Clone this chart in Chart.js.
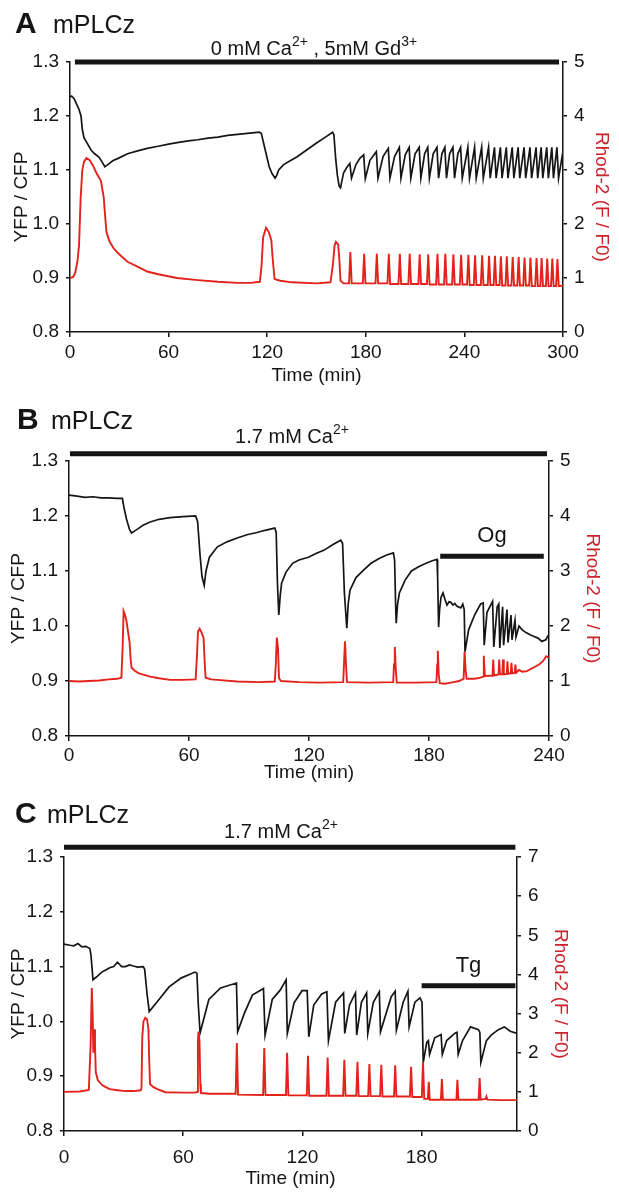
<!DOCTYPE html>
<html>
<head>
<meta charset="utf-8">
<script src="https://cdn.jsdelivr.net/npm/chart.js@4.4.1/dist/chart.umd.min.js"></script>
<style>
  body { margin: 0; background: #fff; }
  canvas { position: absolute; left: 0; }
</style>
</head>
<body>
<canvas id="chartA" width="619" height="390" style="top:0px"></canvas>
<canvas id="chartB" width="619" height="395" style="top:390px"></canvas>
<canvas id="chartC" width="619" height="415" style="top:785px"></canvas>
<script>
// ---- data: [time (min), value] ----

// Panel A: 0 mM Ca2+, 5 mM Gd3+
const aBlack = [
  [0,1.235],[1,1.237],[2.5,1.232],[4,1.222],[5.5,1.212],[6.7,1.2],[7.5,1.175],[8.5,1.16],[10,1.152],
  [12.8,1.137],[15,1.13],[17.6,1.124],[19.5,1.115],[21.2,1.106],[23,1.11],[26,1.117],[29.6,1.122],
  [35,1.13],[41.7,1.136],[47,1.14],[53.7,1.144],[60,1.148],[66,1.151],[72,1.154],[77.8,1.156],
  [84,1.159],[90,1.161],[96,1.164],[101.9,1.166],[108,1.168],[115.2,1.17],[116.4,1.168],[118.8,1.137],
  [121.2,1.106],[123,1.093],[124.8,1.085],[125.8,1.09],[127,1.1],[130,1.11],[134,1.117],[138,1.124],
  [144,1.137],[150,1.15],[155,1.16],[159.8,1.17],[160.6,1.165],[161.7,1.12],[162.7,1.09],[163.8,1.07],
  [164.6,1.067],[166.5,1.095],[168.5,1.105],[170.3,1.112],[171.3,1.085],[174,1.11],[176.5,1.122],
  [178.7,1.128],[179.7,1.084],[182.5,1.118],[186.4,1.134],[187.4,1.085],[190.5,1.125],[193.7,1.14],
  [194.7,1.085],[197.5,1.125],[200.4,1.142],[201.4,1.085],[204,1.128],[206.4,1.142],[207.4,1.085],
  [210,1.13],[212.5,1.142],[213.5,1.085],[215.8,1.13],[217.7,1.142],[218.7,1.085],[221,1.13],
  [223.3,1.142],[224.3,1.085],[226.3,1.13],[228.1,1.142],[229.1,1.085],[231,1.13],[233,1.142],
  [234,1.085],[236,1.13],[237.7,1.142],[238.7,1.085],[242.1,1.142],[243.1,1.085],[246.2,1.142],
  [247.2,1.085],[250.5,1.142],[251.5,1.085],[254.7,1.142],[255.7,1.085],[258.3,1.142],[259.3,1.085],
  [261.9,1.142],[262.9,1.085],[265.5,1.142],[266.5,1.085],[269.1,1.142],[270.1,1.085],[272.7,1.142],
  [273.7,1.085],[276.3,1.142],[277.3,1.085],[279.9,1.142],[280.9,1.085],[283.6,1.142],[284.6,1.085],
  [286.7,1.142],[287.7,1.085],[290.1,1.142],[291.1,1.085],[293.2,1.142],[294.2,1.085],[296.3,1.142],
  [297.3,1.085],[300,1.135]
];
const aRed = [
  [0,1.0],[2,1.02],[3.2,1.1],[4.5,1.3],[5.5,1.6],[6.5,2.5],[7.5,3.0],[8.5,3.15],[10,3.22],[12,3.18],
  [14,3.08],[16,2.95],[18.8,2.8],[20.5,2.5],[21.5,2.1],[22.2,1.85],[24,1.68],[26.5,1.55],[29.6,1.45],
  [35,1.3],[41.7,1.2],[47,1.12],[53.7,1.07],[65,1.0],[77.8,0.96],[90,0.93],[102,0.91],[110,0.91],
  [115.5,0.93],[116.5,1.2],[117.5,1.75],[119.3,1.93],[121,1.85],[122.5,1.7],[123.5,1.3],[124.5,0.98],
  [128,0.95],[135,0.92],[150,0.9],[158.5,0.92],[160,1.25],[161,1.6],[161.8,1.67],[163.2,1.62],
  [164,1.3],[164.6,0.95],[166.5,0.9],
  [169.8,0.9],[170.6,1.48],[171.4,0.9],[178.2,0.9],[179,1.45],[179.8,0.9],[185.9,0.9],[186.7,1.45],
  [187.5,0.9],[193.2,0.9],[194,1.45],[194.8,0.89],[199.9,0.89],[200.7,1.45],[201.5,0.89],[205.9,0.89],
  [206.7,1.45],[207.5,0.89],[212,0.89],[212.8,1.44],[213.6,0.89],[217.2,0.89],[218,1.44],[218.8,0.88],
  [222.8,0.88],[223.6,1.45],[224.4,0.88],[227.6,0.88],[228.4,1.45],[229.2,0.88],[232.5,0.88],
  [233.3,1.44],[234.1,0.88],[237.2,0.88],[238,1.43],[238.8,0.88],[241.6,0.88],[242.4,1.43],[243.2,0.87],
  [245.7,0.87],[246.5,1.42],[247.3,0.87],[250,0.87],[250.8,1.42],[251.6,0.87],[254.2,0.87],[255,1.41],
  [255.8,0.87],[257.8,0.87],[258.6,1.41],[259.4,0.87],[261.4,0.87],[262.2,1.4],[263,0.86],
  [265,0.86],[265.8,1.4],[266.6,0.86],[268.6,0.86],[269.4,1.39],[270.2,0.86],[272.2,0.86],[273,1.39],
  [273.8,0.86],[275.8,0.86],[276.6,1.38],[277.4,0.86],[279.4,0.86],[280.2,1.38],[281,0.85],
  [283.1,0.85],[283.9,1.37],[284.7,0.85],[286.2,0.85],[287,1.37],[287.8,0.85],[289.6,0.85],
  [290.4,1.36],[291.2,0.85],[292.7,0.85],[293.5,1.36],[294.3,0.85],[295.8,0.85],[296.6,1.35],[297.4,0.85],
  [300,0.86]
];
const aBar = [[3,1.3],[297.6,1.3]];

// Panel B: 1.7 mM Ca2+, Og added at ~185 min
const bBlack = [
  [0,1.238],[4,1.236],[8,1.234],[12,1.235],[16,1.233],[20,1.233],[24,1.232],[26.7,1.232],[27.5,1.215],
  [28.7,1.195],[30.3,1.175],[31.3,1.169],[32.5,1.172],[34.6,1.177],[37,1.183],[40.6,1.189],[45,1.194],
  [50.5,1.197],[57,1.199],[63.3,1.2],[64.3,1.19],[65.5,1.13],[66.5,1.09],[67.6,1.074],[68.5,1.1],
  [70.2,1.125],[74.2,1.144],[79,1.153],[84.1,1.16],[89,1.166],[94,1.17],[98,1.174],[102.9,1.178],
  [103.6,1.17],[104.2,1.08],[104.9,1.02],[105.6,1.055],[106.3,1.078],[108.5,1.098],[111.8,1.114],
  [115,1.12],[119.7,1.125],[123.5,1.132],[127.6,1.138],[132,1.148],[135.9,1.156],[136.8,1.15],
  [137.7,1.06],[138.9,0.996],[139.6,1.04],[140.5,1.065],[143.5,1.088],[147.4,1.102],[151,1.114],
  [155.3,1.123],[158.8,1.129],[162.2,1.133],[162.8,1.12],[163.3,1.04],[163.6,1.005],[164.3,1.04],
  [165.2,1.06],[168,1.083],[171.2,1.1],[175,1.108],[179.1,1.115],[182,1.119],[184,1.121],[184.3,1.09],
  [184.8,0.998],[185.3,1.03],[186,1.052],[187,1.06],[188,1.048],[189,1.038],[190,1.044],[190.9,1.043],
  [192,1.038],[192.9,1.041],[194,1.036],[195.9,1.033],[196.9,1.04],[197.6,1.03],[198,0.953],
  [199.8,0.993],[202.8,1.02],[205.8,1.04],[207.1,1.042],[207.6,0.965],[209,1.025],[211.8,1.045],
  [212.4,0.962],[214.1,1.035],[214.9,1.04],[215.4,0.96],[216.8,1.035],[217.3,0.965],[219,1.03],
  [219.5,0.97],[221,1.02],[221.5,0.975],[223,1.01],[223.5,0.98],[225,1.0],[226.6,0.993],[228.5,0.988],
  [230.5,0.984],[232.5,0.981],[234.5,0.978],[236.4,0.972],[238.4,0.975],[240,0.985]
];
const bRed = [
  [0,1.0],[5,0.99],[10,1.0],[15,1.01],[20,1.03],[24,1.04],[26.2,1.06],[26.8,1.6],[27.3,2.27],[28,2.2],
  [28.7,2.1],[29.5,1.9],[30.3,1.7],[30.9,1.35],[31.3,1.24],[33,1.18],[35,1.14],[40.6,1.08],[45,1.05],
  [50.5,1.02],[57,1.02],[63.3,1.03],[63.9,1.4],[64.5,1.9],[65.3,1.95],[66.3,1.88],[67.3,1.78],
  [67.9,1.3],[68.3,1.06],[71,1.03],[74.2,1.02],[84.1,0.99],[95,0.98],[102.9,0.99],[103.4,1.3],
  [103.9,1.79],[104.5,1.6],[105,1.05],[106,1.0],[115,0.98],[125,0.97],[137.1,0.98],[137.6,1.4],
  [138,1.72],[138.5,1.3],[139,0.98],[150,0.97],[162.1,0.98],[162.5,1.3],[162.9,1.62],[163.4,1.2],
  [163.9,0.97],[173,0.97],[183.7,0.98],[184.1,1.3],[184.4,1.55],[184.9,1.1],[185.4,0.96],[188,0.95],
  [191,0.97],[195,1.0],[197.3,1.04],[197.8,1.53],[198.3,1.2],[198.8,1.04],[202.8,1.04],[205.8,1.06],
  [207,1.08],[207.4,1.46],[207.9,1.09],[211.8,1.1],[212.1,1.39],[212.5,1.1],[214.8,1.12],[215.1,1.39],
  [215.5,1.12],[216.7,1.12],[217,1.39],[217.4,1.12],[218.9,1.13],[219.2,1.36],[219.6,1.13],
  [220.9,1.14],[221.2,1.33],[221.6,1.14],[222.9,1.15],[223.2,1.3],[223.6,1.15],[225,1.2],[226.6,1.17],
  [229,1.18],[232.5,1.25],[235,1.3],[237,1.36],[238.6,1.45],[240,1.42]
];
const bBar = [[0.5,1.313],[239,1.313]];
const bDrugBar = [[185.6,1.127],[237.4,1.127]];

// Panel C: 1.7 mM Ca2+, Tg added at ~180 min
const cBlack = [
  [0,1.141],[3,1.139],[5,1.138],[7,1.142],[9,1.136],[11,1.137],[13,1.133],[13.6,1.12],[14.6,1.076],
  [17,1.083],[19,1.09],[21,1.094],[23,1.098],[25,1.1],[26.9,1.108],[29,1.1],[30.9,1.1],[33,1.103],
  [34.9,1.101],[37,1.099],[39.9,1.1],[40.6,1.095],[41.8,1.05],[42.9,1.018],[46.9,1.036],[52.9,1.063],
  [58.9,1.079],[65.9,1.09],[66.9,1.088],[67.6,1.03],[68.5,0.979],[72.9,1.04],[78.8,1.061],[86.8,1.07],
  [87.4,0.981],[90.8,1.015],[94.8,1.048],[100.4,1.06],[101.2,0.975],[104.8,1.04],[108.8,1.057],
  [111.8,1.076],[112.4,0.978],[115.8,1.034],[119.8,1.056],[122.4,1.056],[123.2,0.972],[125.7,1.03],
  [129.7,1.05],[132.3,1.054],[133.1,0.965],[136.7,1.035],[140.7,1.052],[141.3,0.978],[143.7,1.03],
  [146.7,1.052],[147.3,0.975],[149.7,1.035],[152.3,1.052],[152.9,0.978],[155.7,1.035],[158.7,1.054],
  [159.3,0.981],[164.7,1.045],[166.7,1.055],[167.3,0.984],[170.7,1.035],[173.1,1.055],[173.7,0.99],
  [176.6,1.035],[179.2,1.043],[180.2,1.035],[180.8,0.925],[182.6,0.962],[183.4,0.965],[184,0.94],
  [186.6,0.97],[189.8,0.976],[190.4,0.94],[192.6,0.965],[196.6,0.978],[197.8,0.98],[198.4,0.94],
  [200.6,0.965],[204.6,0.99],[208.6,0.985],[209.3,0.98],[209.8,0.925],[212.6,0.965],[215,0.975],
  [218.6,0.985],[221.6,0.99],[224.6,0.982],[228,0.978]
];
const cRed = [
  [0,1.0],[8,1.01],[12.5,1.05],[13.4,2.2],[14,3.65],[14.4,3.0],[14.8,2.0],[15.2,2.6],[15.6,2.2],
  [16,1.5],[17,1.3],[19,1.18],[21,1.12],[23,1.07],[27,1.04],[31,1.02],[35,1.02],[38.6,1.04],
  [39,1.1],[39.4,2.4],[40,2.8],[40.9,2.89],[41.8,2.85],[42.5,2.6],[42.9,1.8],[43.3,1.2],[45,1.12],
  [47,1.07],[51,0.99],[60,0.98],[66,0.98],[67,1.0],[67.4,2.3],[67.7,2.54],[68.2,2.3],[68.6,1.2],
  [68.9,0.97],[73,0.95],[80,0.95],[86.4,0.95],[87,2.25],[87.6,0.93],[100.2,0.92],[100.8,2.12],
  [101.4,0.92],[111.7,0.92],[112.3,2.0],[112.9,0.91],[122.2,0.91],[122.8,1.92],[123.4,0.9],
  [132.1,0.9],[132.7,1.88],[133.3,0.9],[140.5,0.9],[141.1,1.82],[141.7,0.9],[147.1,0.9],[147.7,1.77],
  [148.3,0.89],[153.1,0.89],[153.7,1.71],[154.3,0.89],[159.1,0.89],[159.7,1.69],[160.3,0.88],
  [166.1,0.88],[166.7,1.68],[167.3,0.88],[174.1,0.88],[174.7,1.64],[175.3,0.87],[180.1,0.87],
  [180.7,1.77],[181.3,0.82],[183.1,0.82],[183.6,1.26],[184.1,0.8],[189.7,0.8],[190.2,1.33],[190.7,0.8],
  [197.5,0.8],[198,1.31],[198.5,0.8],[208.7,0.8],[209.2,1.35],[209.7,0.8],[212.2,0.82],[212.6,0.88],
  [213.1,0.8],[220,0.79],[228,0.79]
];
const cBar = [[0,1.318],[227.2,1.318]];
const cDrugBar = [[180,1.065],[227.2,1.065]];

const timeTicks = [0, 60, 120, 180, 240, 300];

// ---- drawing ----
const FAM = '"Liberation Sans", Arial, Helvetica, sans-serif';
const INK = '#151515';
const RED = '#e3221c';
Chart.defaults.font.family = FAM;

function toXY(arr) {
  return arr.map(p => ({ x: p[0], y: p[1] }));
}

// text with superscripts, parts = [[text, isSup], ...]
function drawRich(ctx, parts, cx, baseline, size) {
  const supSize = Math.round(size * 0.68);
  let total = 0;
  parts.forEach(p => {
    ctx.font = (p[1] ? supSize : size) + 'px ' + FAM;
    total += ctx.measureText(p[0]).width;
  });
  let x = cx - total / 2;
  ctx.textAlign = 'left';
  ctx.textBaseline = 'alphabetic';
  parts.forEach(p => {
    ctx.font = (p[1] ? supSize : size) + 'px ' + FAM;
    ctx.fillText(p[0], x, p[1] ? baseline - size * 0.45 : baseline);
    x += ctx.measureText(p[0]).width;
  });
}

const panelText = {
  id: 'panelText',
  afterDraw(chart, args, o) {
    const ctx = chart.ctx;
    ctx.save();
    ctx.fillStyle = INK;
    ctx.textAlign = 'left';
    ctx.textBaseline = 'alphabetic';
    ctx.font = 'bold 30px ' + FAM;
    ctx.fillText(o.letter, o.letterX, o.titleY);
    ctx.font = '25px ' + FAM;
    ctx.fillText('mPLCz', o.nameX, o.titleY);
    drawRich(ctx, o.ca, o.caX, o.caY, 20);
    if (o.drug) {
      const pts = chart.getDatasetMeta(o.drugIdx).data;
      const cx = (pts[0].x + pts[1].x) / 2;
      ctx.font = '22px ' + FAM;
      ctx.textAlign = 'center';
      ctx.textBaseline = 'middle';
      ctx.fillText(o.drug, cx, pts[0].y - 20);
    }
    ctx.restore();
  }
};

function makePanel(id, p) {
  const H = document.getElementById(id).height;
  const tickFont = { size: 19 };
  const datasets = [
    { data: toXY(p.red), yAxisID: 'y2', borderColor: RED, borderWidth: 1.9 },
    { data: toXY(p.black), yAxisID: 'y', borderColor: INK, borderWidth: 1.7 },
    { data: toXY(p.bar), yAxisID: 'y', borderColor: INK, borderWidth: 5, clip: false, borderCapStyle: 'butt' }
  ];
  if (p.drugBar) {
    datasets.push({ data: toXY(p.drugBar), yAxisID: 'y', borderColor: INK, borderWidth: 5, clip: false });
  }
  const axisLine = { display: true, color: INK, width: 1.5 };
  return new Chart(document.getElementById(id), {
    type: 'line',
    data: { datasets: datasets },
    plugins: [panelText],
    options: {
      responsive: false,
      animation: false,
      layout: { padding: { top: p.top, left: 0, right: p.padRight, bottom: 0 } },
      elements: { point: { radius: 0 }, line: { tension: 0, fill: false } },
      plugins: {
        legend: { display: false },
        tooltip: { enabled: false },
        panelText: p.text
      },
      scales: {
        x: {
          type: 'linear', min: 0, max: p.xMax,
          afterFit: s => { s.height = H - p.bottom; },
          afterBuildTicks: s => { s.ticks = timeTicks.filter(v => v <= p.xMax).map(v => ({ value: v })); },
          ticks: { font: tickFont, color: INK, padding: p.xPad, maxRotation: 0 },
          grid: { drawOnChartArea: false, tickLength: 5, color: INK, lineWidth: 1.5 },
          border: axisLine,
          title: { display: true, text: 'Time (min)', color: INK, font: { size: 19 },
                   padding: { top: 0, bottom: p.xTitlePad } }
        },
        y: {
          position: 'left', min: 0.8, max: 1.3,
          afterFit: s => { s.width = p.left; },
          ticks: { stepSize: 0.1, font: tickFont, color: INK, padding: 7,
                   callback: v => v.toFixed(1) },
          grid: { drawOnChartArea: false, tickLength: 4, color: INK, lineWidth: 1.5 },
          border: axisLine,
          title: { display: true, text: 'YFP / CFP', color: INK, font: { size: 19 },
                   padding: { top: p.yTitlePad, bottom: 0 } }
        },
        y2: {
          position: 'right', min: 0, max: p.rMax,
          afterFit: s => { s.width = p.rightW; },
          ticks: { stepSize: 1, font: tickFont, color: INK, padding: 7 },
          grid: { drawOnChartArea: false, tickLength: 4, color: INK, lineWidth: 1.5 },
          border: axisLine,
          title: { display: true, text: 'Rhod-2 (F / F0)', color: '#cc2229', font: { size: 19 },
                   padding: { top: p.rTitlePad, bottom: 0 } }
        }
      }
    }
  });
}

makePanel('chartA', {
  black: aBlack, red: aRed, bar: aBar, xMax: 300, rMax: 5,
  top: 62, bottom: 332, left: 70, rightW: 56, padRight: 0,
  xPad: 4, xTitlePad: 3, yTitlePad: 10, rTitlePad: 6,
  text: { letter: 'A', letterX: 15, nameX: 53, titleY: 33,
          ca: [['0 mM Ca', false], ['2+', true], [' , 5mM Gd', false], ['3+', true]], caX: 314, caY: 55 }
});

makePanel('chartB', {
  black: bBlack, red: bRed, bar: bBar, drugBar: bDrugBar, xMax: 240, rMax: 5,
  top: 71, bottom: 346, left: 69, rightW: 70, padRight: 0,
  xPad: 3, xTitlePad: 1, yTitlePad: 7, rTitlePad: 15,
  text: { letter: 'B', letterX: 17, nameX: 51, titleY: 39,
          ca: [['1.7 mM Ca', false], ['2+', true]], caX: 292, caY: 53,
          drug: 'Og', drugIdx: 3 }
});

makePanel('chartC', {
  black: cBlack, red: cRed, bar: cBar, drugBar: cDrugBar, xMax: 228, rMax: 7,
  top: 72, bottom: 346, left: 64, rightW: 63, padRight: 39,
  xPad: 10, xTitlePad: 10, yTitlePad: 7, rTitlePad: 8,
  text: { letter: 'C', letterX: 15, nameX: 47, titleY: 38,
          ca: [['1.7 mM Ca', false], ['2+', true]], caX: 281, caY: 53,
          drug: 'Tg', drugIdx: 3 }
});
</script>
</body>
</html>
